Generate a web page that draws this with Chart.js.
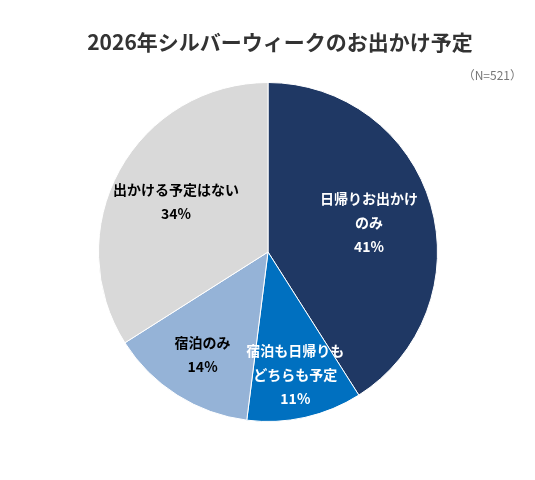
<!DOCTYPE html>
<html><head><meta charset="utf-8">
<script src="https://cdn.jsdelivr.net/npm/chart.js@4"></script>
<style>html,body{margin:0;padding:0;background:#fff}#w{width:535px;height:480px}</style>
</head><body><div id="w"><canvas id="c"></canvas></div>
<script>
const categories = [["日帰りお出かけ","のみ"],["宿泊も日帰りも","どちらも予定"],["宿泊のみ"],["出かける予定はない"]];
const values = [41, 11, 14, 34];
const colors = ["#1f3864", "#0070c0", "#95b3d7", "#d9d9d9"];
const textColors = ["#ffffff", "#ffffff", "#000000", "#000000"];
const radFactors = [0.62, 0.74, 0.72, 0.62];
const font = "'Noto Sans CJK JP', 'Noto Sans', sans-serif";
const labelPlugin = {
  id: 'lbl',
  afterDraw(chart) {
    const ctx = chart.ctx;
    ctx.save();
    ctx.fillStyle = '#333';
    ctx.font = "bold 21px " + font;
    ctx.textAlign = 'center'; ctx.textBaseline = 'middle';
    ctx.fillText('2026年シルバーウィークのお出かけ予定', 280, 42);
    ctx.font = "12px " + font; ctx.fillStyle = '#777'; ctx.textAlign = 'right';
    ctx.fillText('（N=521）', 522, 75);
    const meta = chart.getDatasetMeta(0);
    meta.data.forEach((arc, i) => {
      const p = arc.getProps(['startAngle','endAngle','outerRadius','x','y'], true);
      const a = (p.startAngle + p.endAngle) / 2;
      const r = p.outerRadius * radFactors[i];
      const x = p.x + Math.cos(a) * r, y = p.y + Math.sin(a) * r;
      const lines = [...categories[i], values[i] + '%'];
      ctx.font = "bold 14px " + font; ctx.fillStyle = textColors[i]; ctx.textAlign = 'center';
      const lh = 24, y0 = y - (lines.length - 1) * lh / 2;
      lines.forEach((t, k) => ctx.fillText(t, x, y0 + k * lh));
    });
    ctx.restore();
  }
};
new Chart(document.getElementById('c'), {
  type: 'pie',
  data: { labels: categories.map(c => c.join('')), datasets: [{ data: values, backgroundColor: colors, borderColor: '#fff', borderWidth: 1 }] },
  options: {
    responsive: true, maintainAspectRatio: false, animation: false,
    layout: { padding: { top: 82, bottom: 58, left: 98, right: 97 } },
    plugins: { legend: { display: false }, tooltip: { enabled: false } }
  },
  plugins: [labelPlugin]
});
</script></body></html>
